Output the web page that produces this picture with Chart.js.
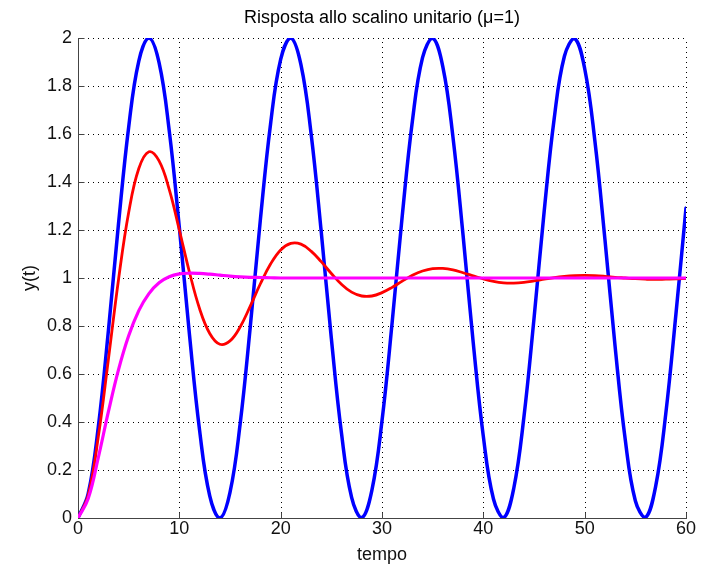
<!DOCTYPE html>
<html>
<head>
<meta charset="utf-8">
<script src="https://cdn.jsdelivr.net/npm/chart.js@4"></script>
<style>
  html, body { margin: 0; padding: 0; background: #fff; }
  canvas { display: block; }
</style>
</head>
<body>
<canvas id="grafico" width="705" height="568"></canvas>
<script>
// Istanti di campionamento (s)
const tempo = [0,1,2,3,4,5,6,7,8,9,10,11,12,13,14,15,16,17,18,19,20,
  21,22,23,24,25,26,27,28,29,30,31,32,33,34,35,36,37,38,39,40,
  41,42,43,44,45,46,47,48,49,50,51,52,53,54,55,56,57,58,59,60];

// Risposta non smorzata (blu)
const yNonSmorzata = [0,0.100,0.378,0.781,1.227,1.628,1.904,2.000,1.897,1.615,1.211,
  0.764,0.365,0.092,0.000,0.107,0.392,0.797,1.244,1.641,1.911,
  2.000,1.889,1.602,1.194,0.749,0.354,0.086,0.001,0.115,0.405,
  0.814,1.260,1.654,1.918,1.999,1.881,1.588,1.178,0.732,0.340,
  0.079,0.001,0.123,0.419,0.831,1.276,1.667,1.924,1.998,1.873,
  1.574,1.161,0.716,0.328,0.072,0.002,0.131,0.433,0.847,1.292];

// Risposta poco smorzata (rosso)
const yPocoSmorzata = [0,0.094,0.337,0.661,0.994,1.273,1.456,1.526,1.488,1.369,1.200,
  1.024,0.872,0.769,0.724,0.738,0.796,0.883,0.976,1.058,1.117,
  1.144,1.141,1.112,1.068,1.019,0.974,0.941,0.925,0.925,0.939,
  0.961,0.987,1.011,1.029,1.039,1.040,1.034,1.022,1.009,0.996,
  0.986,0.980,0.979,0.982,0.988,0.995,1.002,1.007,1.010,1.011,
  1.010,1.007,1.003,1.000,0.997,0.995,0.994,0.995,0.996,0.998];

// Risposta ben smorzata (magenta)
const yBenSmorzata = [0,0.080,0.251,0.443,0.618,0.759,0.864,0.935,0.980,1.005,1.017,
  1.020,1.019,1.016,1.012,1.008,1.005,1.003,1.002,1.001,1.000,
  1.000,1.000,1.000,1.000,1.000,1.000,1.000,1.000,1.000,1.000,
  1.000,1.000,1.000,1.000,1.000,1.000,1.000,1.000,1.000,1.000,
  1.000,1.000,1.000,1.000,1.000,1.000,1.000,1.000,1.000,1.000,
  1.000,1.000,1.000,1.000,1.000,1.000,1.000,1.000,1.000,1.000];

// Tacche degli assi
const tickX = [0,10,20,30,40,50,60];
const tickY = [0,0.2,0.4,0.6,0.8,1,1.2,1.4,1.6,1.8,2];
const etichetteY = ['0','0.2','0.4','0.6','0.8','1','1.2','1.4','1.6','1.8','2'];

const titolo = 'Risposta allo scalino unitario (μ=1)';

const FONT = '"Liberation Sans", Arial, Helvetica, sans-serif';
const CORPO = 18;

function punti(valori) {
  return tempo.map((t, i) => ({ x: t, y: valori[i] }));
}

// Griglia punteggiata, assi pieni a sinistra e in basso con tacche interne,
// titolo centrato sull'area del grafico
const assiMatlab = {
  id: 'assiMatlab',
  beforeDatasetsDraw(chart) {
    const { ctx, chartArea: a, scales: { x, y } } = chart;
    ctx.save();
    ctx.lineWidth = 1;
    ctx.strokeStyle = '#000';
    ctx.setLineDash([1, 4]);
    tickX.forEach(v => {
      const px = Math.round(x.getPixelForValue(v)) + 0.5;
      ctx.beginPath();
      ctx.moveTo(px, a.bottom);
      ctx.lineTo(px, a.top);
      ctx.stroke();
    });
    tickY.forEach(v => {
      const py = Math.round(y.getPixelForValue(v)) + 0.5;
      ctx.beginPath();
      ctx.moveTo(a.left, py);
      ctx.lineTo(a.right, py);
      ctx.stroke();
    });
    ctx.setLineDash([]);
    ctx.strokeStyle = '#444';
    const x0 = Math.round(a.left) + 0.5;
    const y0 = Math.round(a.bottom) + 0.5;
    ctx.beginPath();
    ctx.moveTo(x0, Math.round(a.top));
    ctx.lineTo(x0, y0);
    ctx.lineTo(Math.round(a.right) + 1, y0);
    ctx.stroke();
    const lung = 6;
    tickX.forEach(v => {
      const px = Math.round(x.getPixelForValue(v)) + 0.5;
      ctx.beginPath();
      ctx.moveTo(px, y0);
      ctx.lineTo(px, y0 - lung);
      ctx.stroke();
    });
    tickY.forEach(v => {
      const py = Math.round(y.getPixelForValue(v)) + 0.5;
      ctx.beginPath();
      ctx.moveTo(x0, py);
      ctx.lineTo(x0 + lung, py);
      ctx.stroke();
    });

    ctx.fillStyle = '#000';
    ctx.font = `${CORPO}px ${FONT}`;
    ctx.textAlign = 'center';
    ctx.textBaseline = 'alphabetic';
    ctx.fillText(titolo, (a.left + a.right) / 2, 23);
    ctx.restore();
  }
};

new Chart(document.getElementById('grafico'), {
  type: 'line',
  data: {
    datasets: [
      { data: punti(yNonSmorzata), borderColor: '#0000ff', borderWidth: 3.5, order: 3 },
      { data: punti(yPocoSmorzata), borderColor: '#ff0000', borderWidth: 2.8, order: 2 },
      { data: punti(yBenSmorzata), borderColor: '#ff00ff', borderWidth: 3.2, order: 1 }
    ]
  },
  options: {
    responsive: false,
    animation: false,
    devicePixelRatio: 1,
    elements: {
      point: { radius: 0 },
      line: { tension: 0.4, fill: false, borderJoinStyle: 'round', borderCapStyle: 'round' }
    },
    layout: { padding: { left: 0, right: 19, top: 38, bottom: 0 } },
    plugins: {
      legend: { display: false },
      tooltip: { enabled: false },
      title: { display: false }
    },
    scales: {
      x: {
        type: 'linear',
        min: 0,
        max: 60,
        afterBuildTicks: s => { s.ticks = tickX.map(v => ({ value: v })); },
        afterFit: s => { s.height = 50; },
        grid: { display: false, drawTicks: false },
        border: { display: false },
        ticks: {
          padding: 0,
          color: '#111',
          font: { family: FONT, size: CORPO },
          maxRotation: 0,
          callback: v => String(v)
        },
        title: {
          display: true,
          text: 'tempo',
          color: '#111',
          font: { family: FONT, size: CORPO, lineHeight: 1.2 },
          padding: { top: 0, bottom: 2 }
        }
      },
      y: {
        type: 'linear',
        min: 0,
        max: 2,
        afterBuildTicks: s => { s.ticks = tickY.map(v => ({ value: v })); },
        afterFit: s => { s.width = 78; },
        grid: { display: false, drawTicks: false },
        border: { display: false },
        ticks: {
          padding: 6,
          color: '#111',
          font: { family: FONT, size: CORPO },
          callback: (v, i) => etichetteY[i]
        },
        title: {
          display: true,
          text: 'y(t)',
          color: '#111',
          font: { family: FONT, size: CORPO, lineHeight: 1.2 },
          padding: { top: 19, bottom: 0 }
        }
      }
    }
  },
  plugins: [assiMatlab]
});
</script>
</body>
</html>
